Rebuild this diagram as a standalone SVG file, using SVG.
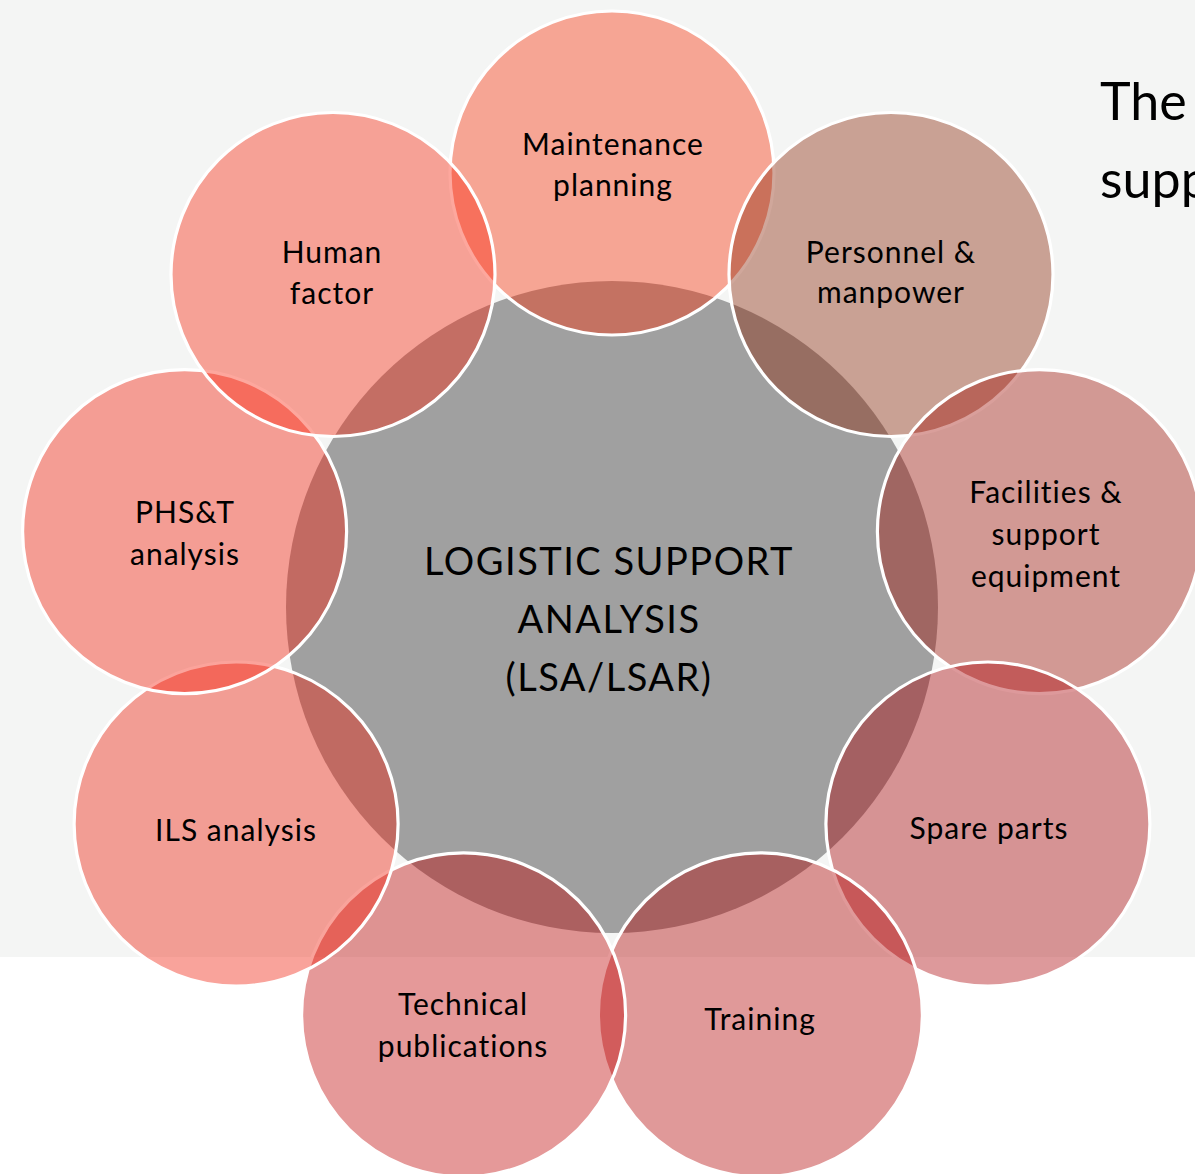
<svg xmlns="http://www.w3.org/2000/svg" width="1195" height="1174" viewBox="0 0 1195 1174">
  <style>
    .bub { stroke: #ffffff; stroke-width: 3.2; }
    .lbl { font-family: Lato, "Liberation Sans", sans-serif; font-size: 30px; letter-spacing: 1px; fill: #000000; text-anchor: middle; }
    .ctr { font-family: Lato, "Liberation Sans", sans-serif; font-size: 38px; letter-spacing: 1.5px; fill: #000000; text-anchor: middle; }
    .side { font-family: Lato, "Liberation Sans", sans-serif; font-size: 52px; fill: #000000; }
  </style>
  <rect x="0" y="0" width="1195" height="1174" fill="#ffffff"/>
  <rect x="0" y="0" width="1195" height="957" fill="#f4f5f4"/>
  <g id="connectors"></g>
  <g id="center">
    <circle cx="612" cy="607" r="326" fill="#a0a0a0"/>
  </g>
  <g id="maintenance">
    <circle class="bub" cx="612" cy="173" r="162" fill="rgba(249,44,4,0.4)"/>
  </g>
  <g id="personnel">
    <circle class="bub" cx="891" cy="274.5" r="162" fill="rgba(137,34,4,0.4)"/>
  </g>
  <g id="facilities">
    <circle class="bub" cx="1039.4" cy="531.6" r="162" fill="rgba(159,16,4,0.4)"/>
  </g>
  <g id="spare">
    <circle class="bub" cx="987.9" cy="824" r="162" fill="rgba(169,0,4,0.4)"/>
  </g>
  <g id="training">
    <circle class="bub" cx="760.4" cy="1014.8" r="162" fill="rgba(177,0,0,0.4)"/>
  </g>
  <g id="techpub">
    <circle class="bub" cx="463.6" cy="1014.8" r="162" fill="rgba(190,0,0,0.4)"/>
  </g>
  <g id="ils">
    <circle class="bub" cx="236.1" cy="824" r="162" fill="rgba(239,24,4,0.4)"/>
  </g>
  <g id="phst">
    <circle class="bub" cx="184.6" cy="531.6" r="162" fill="rgba(244,24,4,0.4)"/>
  </g>
  <g id="human">
    <circle class="bub" cx="333" cy="274.5" r="162" fill="rgba(251,34,9,0.4)"/>
  </g>
  <g id="labels">
    <text class="lbl" x="613" y="155">Maintenance</text>
    <text class="lbl" x="613" y="196">planning</text>
    <text class="lbl" x="891" y="263">Personnel &amp;</text>
    <text class="lbl" x="891" y="303">manpower</text>
    <text class="lbl" x="1046" y="503">Facilities &amp;</text>
    <text class="lbl" x="1046" y="545">support</text>
    <text class="lbl" x="1046" y="587">equipment</text>
    <text class="lbl" x="989" y="839">Spare parts</text>
    <text class="lbl" x="760" y="1030">Training</text>
    <text class="lbl" x="463" y="1015">Technical</text>
    <text class="lbl" x="463" y="1057">publications</text>
    <text class="lbl" x="236" y="841">ILS analysis</text>
    <text class="lbl" x="185" y="523">PHS&amp;T</text>
    <text class="lbl" x="185" y="565">analysis</text>
    <text class="lbl" x="332" y="263">Human</text>
    <text class="lbl" x="332" y="304">factor</text>
    <text class="ctr" x="609" y="575">LOGISTIC SUPPORT</text>
    <text class="ctr" x="609" y="633">ANALYSIS</text>
    <text class="ctr" x="609" y="691">(LSA/LSAR)</text>
    <text class="side" x="1100" y="120">The</text>
    <text class="side" x="1100" y="198">supp</text>
  </g>
</svg>
